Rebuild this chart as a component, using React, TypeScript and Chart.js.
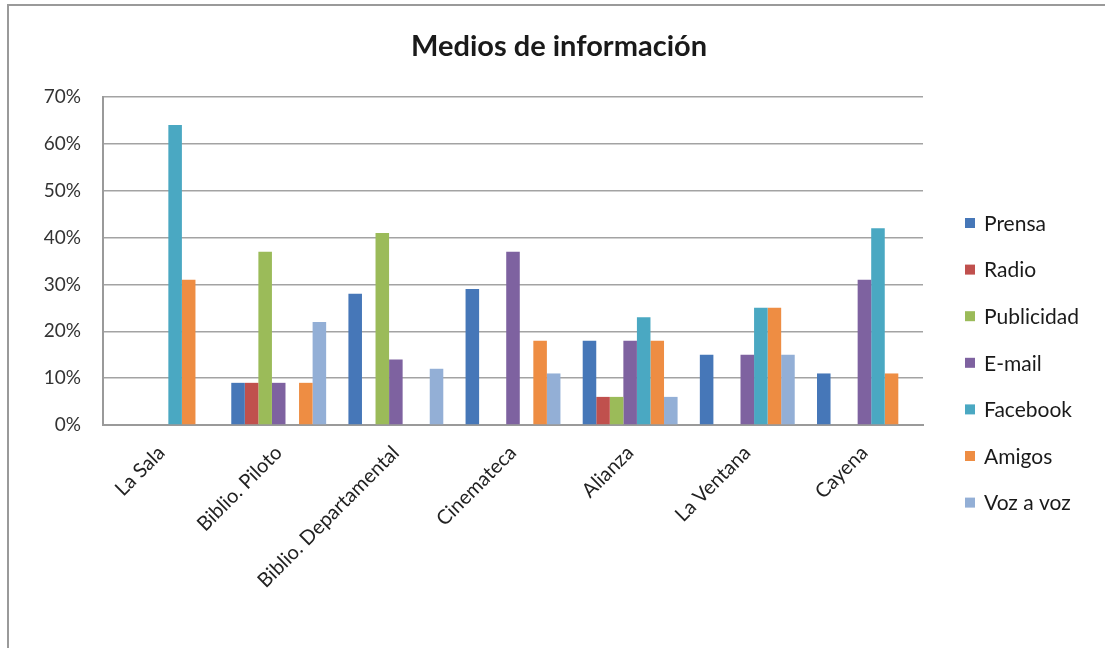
import React, { useEffect, useRef } from 'react';
import { Chart, registerables } from 'chart.js';
Chart.register(...registerables);

const titleText = 'Medios de información';
const categories = ['La Sala', 'Biblio. Piloto', 'Biblio. Departamental', 'Cinemateca', 'Alianza', 'La Ventana', 'Cayena'];
const prensa = [0, 9, 28, 29, 18, 15, 11];
const radio = [0, 9, 0, 0, 6, 0, 0];
const publicidad = [0, 37, 41, 0, 6, 0, 0];
const email = [0, 9, 14, 37, 18, 15, 31];
const facebook = [64, 0, 0, 0, 23, 25, 42];
const amigos = [31, 9, 0, 18, 18, 25, 11];
const vozAVoz = [0, 22, 12, 11, 6, 15, 0];
const seriesNames = ['Prensa', 'Radio', 'Publicidad', 'E-mail', 'Facebook', 'Amigos', 'Voz a voz'];
const seriesValues = [prensa, radio, publicidad, email, facebook, amigos, vozAVoz];
const seriesColors = ['#4677B8', '#C0504D', '#9BBB59', '#7E62A0', '#4AA8C2', '#EE8D43', '#93AFD6'];
const yMax = 70;
const yStep = 10;

const FONT = 'Lato, "Open Sans", sans-serif';

const decorPlugin = {
  id: 'decor',
  beforeDraw(chart: any) {
    const ctx = chart.ctx;
    ctx.save();
    ctx.fillStyle = '#ffffff';
    ctx.fillRect(0, 0, chart.width, chart.height);
    ctx.strokeStyle = '#9a9a9a';
    ctx.lineWidth = 2;
    ctx.beginPath();
    ctx.moveTo(8, chart.height);
    ctx.lineTo(8, 5);
    ctx.lineTo(chart.width, 5);
    ctx.stroke();
    ctx.restore();
  },
  afterDraw(chart: any) {
    const ctx = chart.ctx;
    ctx.save();
    ctx.fillStyle = '#1a1a1a';
    ctx.font = 'bold 29px ' + FONT;
    ctx.textAlign = 'center';
    ctx.textBaseline = 'middle';
    ctx.fillText(titleText, 559, 47);
    // legend
    const startY = 223;
    const gap = 46.6;
    ctx.font = '21px ' + FONT;
    ctx.textAlign = 'left';
    chart.data.datasets.forEach((ds: any, i: number) => {
      const y = startY + i * gap;
      ctx.fillStyle = ds.backgroundColor;
      ctx.fillRect(965, y - 5, 10, 10);
      ctx.fillStyle = '#1a1a1a';
      ctx.fillText(ds.label, 984, y + 1);
    });
    ctx.restore();
  },
};

export default function App() {
  const ref = useRef<HTMLCanvasElement | null>(null);
  useEffect(() => {
    if (!ref.current) return;
    const chart = new Chart(ref.current, {
      type: 'bar',
      data: {
        labels: categories,
        datasets: seriesNames.map((name, i) => ({
          label: name,
          data: seriesValues[i],
          backgroundColor: seriesColors[i],
          borderWidth: 0,
          categoryPercentage: 0.81,
          barPercentage: 1.0,
        })),
      },
      options: {
        responsive: false,
        animation: false,
        events: [],
        layout: { padding: { top: 97, right: 182, left: 0, bottom: 0 } },
        plugins: {
          legend: { display: false },
          title: { display: false },
          tooltip: { enabled: false },
        },
        scales: {
          x: {
            grid: { display: false, drawTicks: false },
            border: { display: true, color: '#9a9a9a', width: 2 },
            ticks: {
              color: '#222',
              font: { family: FONT, size: 20 },
              minRotation: 45,
              maxRotation: 45,
              padding: 16,
              autoSkip: false,
            },
            afterFit(scale: any) {
              scale.height = 648 - 425;
            },
          },
          y: {
            min: 0,
            max: yMax,
            grid: { color: '#a3a3a3', lineWidth: 1.5, drawTicks: false },
            border: { display: true, color: '#9a9a9a', width: 2 },
            ticks: {
              stepSize: yStep,
              color: '#333',
              font: { family: FONT, size: 19 },
              padding: 22,
              callback: (v: any) => v + '%',
            },
            afterFit(scale: any) {
              scale.width = 103;
            },
          },
        },
      },
      plugins: [decorPlugin],
    });
    return () => chart.destroy();
  }, []);
  return (
    <div style={{ position: 'fixed', left: 0, top: 0, width: 1105, height: 648, background: '#fff' }}>
      <canvas ref={ref} width={1105} height={648} style={{ display: 'block' }} />
    </div>
  );
}
